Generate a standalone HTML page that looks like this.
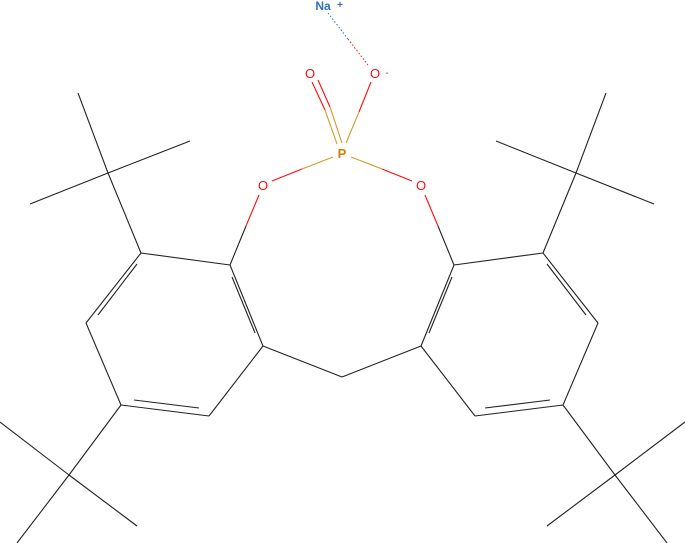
<!DOCTYPE html>
<html><head><meta charset="utf-8"><style>
html,body{margin:0;padding:0;background:#fff;}
svg{display:block;}
text{font-family:"Liberation Sans",sans-serif;}
</style></head><body>
<svg width="685" height="543" viewBox="0 0 685 543" xmlns="http://www.w3.org/2000/svg">
<g stroke="#222" stroke-width="1.1" fill="none">
  <line x1="141" y1="253" x2="230" y2="265"/>
  <line x1="230" y1="265" x2="263" y2="346"/>
  <line x1="232" y1="277" x2="255" y2="333"/>
  <line x1="263" y1="346" x2="209" y2="416"/>
  <line x1="209" y1="416" x2="121" y2="405"/>
  <line x1="199" y1="408" x2="134" y2="400"/>
  <line x1="121" y1="405" x2="86" y2="323"/>
  <line x1="86" y1="323" x2="141" y2="253"/>
  <line x1="98" y1="315" x2="137" y2="264"/>
  <line x1="141" y1="253" x2="108" y2="173"/>
  <line x1="108" y1="173" x2="78" y2="93"/>
  <line x1="108" y1="173" x2="190" y2="141"/>
  <line x1="108" y1="173" x2="30" y2="204"/>
  <line x1="121" y1="405" x2="69" y2="475"/>
  <line x1="69" y1="475" x2="0" y2="422"/>
  <line x1="69" y1="475" x2="137" y2="526"/>
  <line x1="69" y1="475" x2="17" y2="543"/>
  <line x1="263" y1="346" x2="342" y2="377"/>
  <line x1="342" y1="377" x2="421" y2="346"/>
  <line x1="543" y1="253" x2="454" y2="265"/>
  <line x1="454" y1="265" x2="421" y2="346"/>
  <line x1="452" y1="277" x2="429" y2="333"/>
  <line x1="421" y1="346" x2="475" y2="416"/>
  <line x1="475" y1="416" x2="563" y2="405"/>
  <line x1="485" y1="408" x2="550" y2="400"/>
  <line x1="563" y1="405" x2="598" y2="323"/>
  <line x1="598" y1="323" x2="543" y2="253"/>
  <line x1="586" y1="315" x2="547" y2="264"/>
  <line x1="543" y1="253" x2="576" y2="173"/>
  <line x1="576" y1="173" x2="606" y2="93"/>
  <line x1="576" y1="173" x2="496" y2="141"/>
  <line x1="576" y1="173" x2="654" y2="204"/>
  <line x1="563" y1="405" x2="615" y2="475"/>
  <line x1="615" y1="475" x2="685" y2="422"/>
  <line x1="615" y1="475" x2="547" y2="526"/>
  <line x1="615" y1="475" x2="667" y2="543"/>
  <line x1="230" y1="265" x2="246" y2="226"/>
  <line x1="454" y1="265" x2="438" y2="226"/>
</g>
<g stroke="#ff0d0d" stroke-width="1.1" fill="none">
  <line x1="246" y1="226" x2="259" y2="195"/>
  <line x1="438" y1="226" x2="425" y2="195"/>
  <line x1="272" y1="181" x2="302" y2="169"/>
  <line x1="412" y1="181" x2="382" y2="169"/>
  <line x1="312" y1="82" x2="325" y2="110"/>
  <line x1="318" y1="80" x2="330" y2="107"/>
  <line x1="371" y1="82" x2="359" y2="112"/>
</g>
<g stroke="#d49a2a" stroke-width="1.1" fill="none">
  <line x1="302" y1="169" x2="333" y2="157"/>
  <line x1="382" y1="169" x2="351" y2="157"/>
  <line x1="325" y1="110" x2="337" y2="144"/>
  <line x1="330" y1="107" x2="342" y2="143"/>
  <line x1="359" y1="112" x2="346" y2="143"/>
</g>
<line x1="328" y1="13" x2="348" y2="39" stroke="#3070c0" stroke-width="1" stroke-dasharray="1.5,2"/>
<line x1="348" y1="39" x2="368" y2="65" stroke="#ff0d0d" stroke-width="1" stroke-dasharray="1.5,2"/>
<g font-size="13" text-anchor="middle">
  <text x="342" y="158" fill="#d08000" font-weight="bold">P</text>
  <text x="310" y="78" fill="#ff0d0d">O</text>
  <text x="375" y="78" fill="#ff0d0d">O</text>
  <text x="387" y="76" fill="#ff0d0d" font-size="10">-</text>
  <text x="263" y="190" fill="#ff0d0d">O</text>
  <text x="421" y="190" fill="#ff0d0d">O</text>
  <text x="323" y="10" fill="#3070c0" font-size="12" font-weight="bold">Na</text>
  <text x="340" y="8" fill="#3070c0" font-size="10" font-weight="bold">+</text>
</g>
</svg>
</body></html>
